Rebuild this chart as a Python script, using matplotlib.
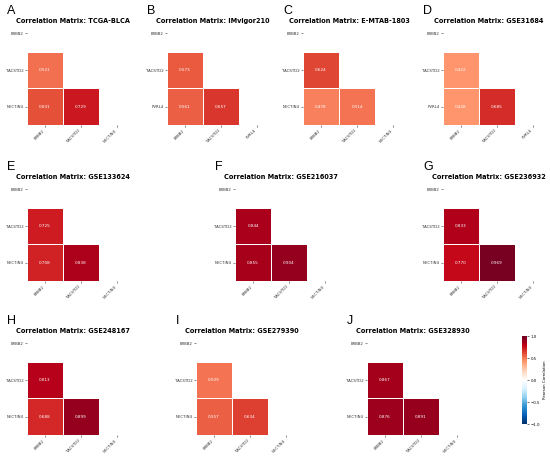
import numpy as np
import matplotlib
matplotlib.use("Agg")
import matplotlib.pyplot as plt
from matplotlib.colors import Normalize, LinearSegmentedColormap, rgb_to_hsv, hsv_to_rgb
from matplotlib.cm import ScalarMappable

# ---------------- data ----------------
letters = ["A", "B", "C", "D", "E", "F", "G", "H", "I", "J"]
cohorts = ["TCGA-BLCA", "IMvigor210", "E-MTAB-1803", "GSE31684", "GSE133624",
           "GSE216037", "GSE236932", "GSE248167", "GSE279390", "GSE328930"]
genes_nectin = ["ERBB2", "TACSTD2", "NECTIN4"]
genes_pvrl = ["ERBB2", "TACSTD2", "PVRL4"]
gene_sets = [genes_nectin, genes_pvrl, genes_nectin, genes_pvrl, genes_nectin,
             genes_nectin, genes_nectin, genes_nectin, genes_nectin, genes_nectin]
# correlations: TACSTD2~ERBB2, third~ERBB2, third~TACSTD2
r_tacstd2_erbb2 = [0.521, 0.573, 0.624, 0.422, 0.725, 0.844, 0.833, 0.813, 0.509, 0.867]
r_third_erbb2 = [0.601, 0.561, 0.478, 0.428, 0.708, 0.855, 0.770, 0.688, 0.557, 0.876]
r_third_tacstd2 = [0.729, 0.657, 0.514, 0.685, 0.838, 0.904, 0.969, 0.899, 0.634, 0.891]
cbar_ticks = [-1.0, -0.5, 0.0, 0.5, 1.0]

# ---------------- colormap (RdBu_r, slightly more vivid) ----------------
base = plt.get_cmap("RdBu_r")(np.linspace(0, 1, 256))[:, :3]
hsv = rgb_to_hsv(base)
hsv[:, 1] = np.clip(hsv[:, 1] * 1.18, 0, 1)
hsv[:, 2] = np.clip(hsv[:, 2] * 1.07, 0, 1)
cmap = LinearSegmentedColormap.from_list("rdbu_vivid", hsv_to_rgb(hsv))
norm = Normalize(vmin=-1, vmax=1)

# ---------------- layout (pixels) ----------------
W, H = 550, 457
fig = plt.figure(figsize=(W / 100, H / 100), dpi=100)
panel_pos = [(27, 15), (167, 15), (303, 15), (443, 15),
             (27, 171), (235, 171), (443, 171),
             (27, 325), (196, 325), (367, 325)]
AW, AH = 108, 110


def fx(x):
    return x / W


def fy(y):
    return 1 - y / H


for k in range(len(cohorts)):
    l, t = panel_pos[k]
    ax = fig.add_axes([fx(l), fy(t + AH), AW / W, AH / H])
    mat = np.full((3, 3), np.nan)
    mat[1, 0] = r_tacstd2_erbb2[k]
    mat[2, 0] = r_third_erbb2[k]
    mat[2, 1] = r_third_tacstd2[k]
    ax.pcolormesh(np.arange(4), np.arange(4), np.ma.masked_invalid(mat),
                  cmap=cmap, norm=norm, edgecolors="white", linewidth=0.5)
    for i in range(3):
        for j in range(3):
            if not np.isnan(mat[i, j]):
                ax.text(j + 0.5, i + 0.5, f"{mat[i, j]:.3f}", color="white",
                        fontsize=3, ha="center", va="center")
    ax.set_xlim(0, 3)
    ax.set_ylim(3, 0)
    for s in ax.spines.values():
        s.set_visible(False)
    g = gene_sets[k]
    ax.set_xticks([0.5, 1.5, 2.5])
    ax.set_xticklabels(g, rotation=45, ha="right", fontsize=2.8)
    ax.set_yticks([0.5, 1.5, 2.5])
    ax.set_yticklabels(g, fontsize=2.8)
    ax.tick_params(length=1.5, width=0.4, pad=1, colors="#333333")
    # title & panel letter
    fig.text(fx(l + AW / 2 - 8), fy(t + 6), f"Correlation Matrix: {cohorts[k]}",
             fontsize=4.7, fontweight="bold", ha="center", va="center")
    fig.text(fx(l - 20), fy(t - 3.5), letters[k], fontsize=9,
             family="Liberation Sans", ha="left", va="center")

# colorbar
cax = fig.add_axes([fx(522), fy(424), 5 / W, 88 / H])
cb = fig.colorbar(ScalarMappable(norm=norm, cmap=cmap), cax=cax)
cb.set_ticks(cbar_ticks)
cb.ax.tick_params(labelsize=2.8, length=1.5, width=0.4, pad=1)
cb.outline.set_visible(False)
cb.set_label("Pearson Correlation", fontsize=2.8, labelpad=2)

fig.savefig("out.png", dpi=100)
